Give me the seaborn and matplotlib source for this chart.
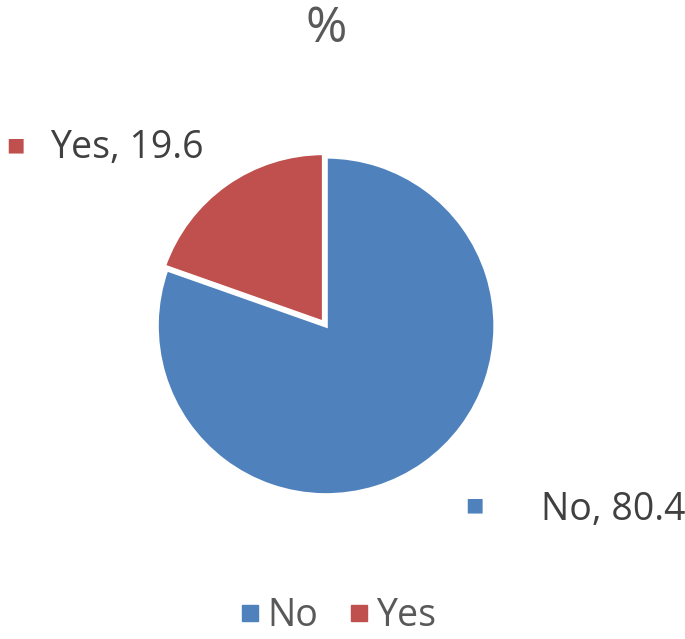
import matplotlib
matplotlib.use("Agg")
import matplotlib.pyplot as plt
from matplotlib.lines import Line2D
import seaborn as sns

# Data
categories = ["No", "Yes"]
values = [80.4, 19.6]
colors = ["#4F81BD", "#C0504D"]
title = "%"

sns.set_theme(style="white")
plt.rcParams["font.family"] = ["Open Sans", "DejaVu Sans"]
text_color = "#404040"

fig = plt.figure(figsize=(6.85, 6.39), dpi=100)
ax = fig.add_axes([0.476 - 0.2467, 0.490 - 0.2645, 0.4934, 0.529])

ax.pie(values, colors=colors, startangle=90, counterclock=False,
       explode=[0, 0.025],
       wedgeprops=dict(edgecolor="white", linewidth=2.5))
ax.set_aspect("equal")
ax.set_xlim(-1.0, 1.0)
ax.set_ylim(-1.0, 1.0)

# Data labels with square keys
label_pos = [(0.693, 0.21, 0.79, 0.202), (0.022, 0.773, 0.073, 0.768)]
for cat, val, col, (sx, sy, tx, ty) in zip(categories, values, colors, label_pos):
    fig.text(sx, sy, "\u25A0", color=col, fontsize=14, ha="center", va="center",
             family=["DejaVu Sans"])
    fig.text(tx, ty, f"{cat}, {val}",
             color=text_color, fontsize=27, ha="left", va="center")

fig.text(0.476, 0.955, title, color="#595959", fontsize=36, ha="center", va="center")

handles = [Line2D([0], [0], marker="s", linestyle="", markersize=11,
                  markerfacecolor=c, markeredgecolor=c) for c in colors]
fig.legend(handles, categories, loc="center", bbox_to_anchor=(0.49, 0.036),
           ncol=2, frameon=False, fontsize=27, labelcolor="#595959",
           handletextpad=0.05, columnspacing=0.7, handlelength=0.8,
           borderpad=0.0)

plt.savefig("out.png", dpi=100)
